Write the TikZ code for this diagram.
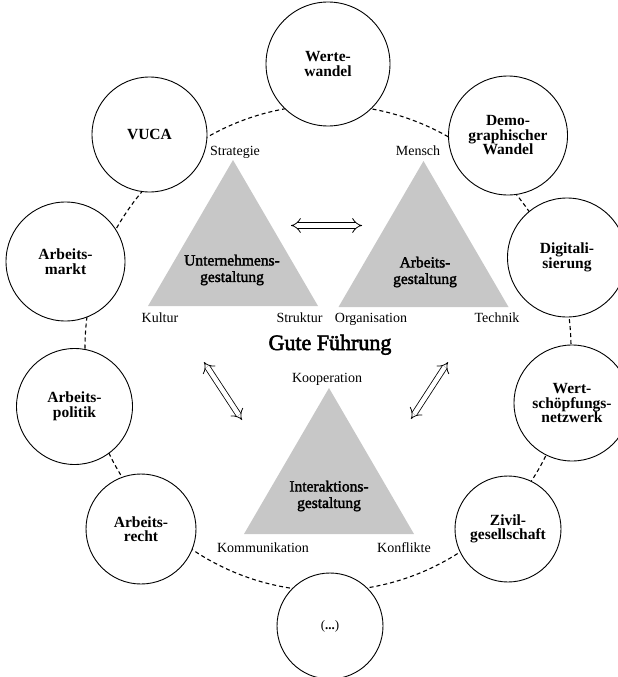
\documentclass[tikz,border=0pt]{standalone}
\usepackage{fontspec}
\setmainfont{Liberation Serif}
\newfontfamily\halbfett[FakeBold=2]{Liberation Serif}
\newfontfamily\titelfett[FakeBold=2.6]{Liberation Serif}
\usetikzlibrary{arrows.meta}
\definecolor{dreieck}{RGB}{199,199,199}

\begin{document}
\begin{tikzpicture}[x=1pt,y=-1pt,line cap=butt,line join=miter]
	\tikzset{kreis/.style={circle,draw,fill=white,line width=.9pt,inner sep=0pt,align=center,
			font=\bfseries\fontsize{15.5}{14.5}\selectfont},
		ecke/.style={anchor=base,font=\fontsize{14}{15}\selectfont},
		feld/.style={align=center,font=\halbfett\fontsize{15.5}{16.5}\selectfont},
		pfeil/.style={double,double distance=4.5pt,line width=.8pt,{Implies}-{Implies}}}
	\useasboundingbox (0,0) rectangle (618,677);
	% Ring hinter den Kreisen
	\coordinate (mitte) at (328,348);
	\draw[dash pattern=on 4pt off 3pt,line width=1.1pt] (mitte) circle (243);
	% Einflussfaktoren
	\foreach \n/\x/\y/\dm/\txt in {werte/328/64/124/{Werte-\\wandel},
			vuca/149.5/134.5/115/{VUCA},
			demo/508/135.5/119/{Demo-\\graphischer\\Wandel},
			amarkt/65.5/261.5/119/{Arbeits-\\markt},
			digital/567/257.5/119/{Digitali-\\sierung},
			apolitik/74.5/406.5/116/{Arbeits-\\politik},
			wsn/572/403/116/{Wert-\\schöpfungs-\\netzwerk},
			arecht/141/529/110/{Arbeits-\\recht},
			zivil/508/529/106/{Zivil-\\gesellschaft},
			etc/330/626/106/{\mdseries\fontsize{13}{14}\selectfont\raisebox{-6pt}{(\textbf{...})}}}{
			\node[kreis,minimum size=\dm pt] (\n) at (\x,\y) {\txt};}
	% Dreiecke
	\foreach \sx/\sy in {233/160,423.5/161,329/388}{
			\fill[dreieck] (\sx,\sy) -- ++(85,146) -- ++(-170,0) -- cycle;}
	\node[feld] (ug) at (232,270) {Unternehmens-\\gestaltung};
	\node[feld] (ag) at (425,272) {Arbeits-\\gestaltung};
	\node[feld] (ig) at (329,496) {Interaktions-\\gestaltung};
	\node[ecke] (strategie) at (235,155) {Strategie};
	\node[ecke] (kultur) at (160,322) {Kultur};
	\node[ecke] (struktur) at (299.5,322) {Struktur};
	\node[ecke] (mensch) at (418,155) {Mensch};
	\node[ecke] (organisation) at (371,322) {Organisation};
	\node[ecke] (technik) at (497,322) {Technik};
	\node[ecke] (kooperation) at (327,382) {Kooperation};
	\node[ecke] (kommunikation) at (263,552) {Kommunikation};
	\node[ecke] (konflikte) at (404,552) {Konflikte};
	\node[anchor=base,font=\titelfett\fontsize{22}{24}\selectfont] (gf) at (330,350) {Gute Führung};
	% Wechselwirkungen
	\coordinate (p1) at (291,225.5);
	\coordinate (p2) at (362,225.5);
	\coordinate (p3) at (204,362);
	\coordinate (p4) at (242,420);
	\coordinate (p5) at (448,362);
	\coordinate (p6) at (411,419);
	\foreach \a/\b in {p1/p2,p3/p4,p5/p6}{
			\draw[pfeil] (\a) -- (\b);}
\end{tikzpicture}
\end{document}
